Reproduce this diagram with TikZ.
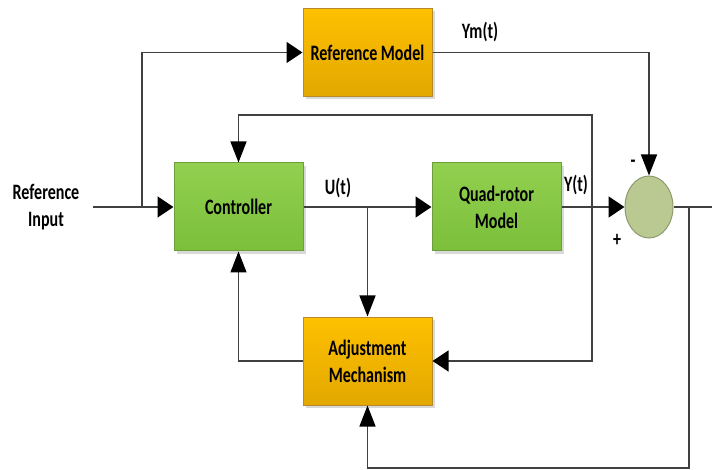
\documentclass[tikz,border=0pt]{standalone}
\usepackage{fontspec}
\setmainfont{Carlito}[FakeStretch=0.73]
\usetikzlibrary{arrows.meta,shapes.geometric,shadows}
\definecolor{gtop}{HTML}{92D050}
\definecolor{gbot}{HTML}{7BBF3A}
\definecolor{gedge}{HTML}{6E9E3C}
\definecolor{otop}{HTML}{FFC000}
\definecolor{obot}{HTML}{E2A800}
\definecolor{oedge}{HTML}{B58A2A}
\definecolor{sumfill}{HTML}{BAC992}
\definecolor{sumedge}{HTML}{8C9A6C}
\definecolor{linec}{HTML}{404040}
\begin{document}
\begin{tikzpicture}[x=1pt,y=-1pt,
  txt/.style={font=\bfseries\fontsize{22}{27}\selectfont, text=black, align=center},
  box/.style={txt, rectangle, draw, line width=1pt, minimum width=129pt, minimum height=88pt, inner sep=0pt,
    drop shadow={shadow xshift=3pt, shadow yshift=-3pt, fill=black!15, opacity=1}},
  gbox/.style={box, draw=gedge, top color=gtop, bottom color=gbot},
  obox/.style={box, draw=oedge, top color=otop, bottom color=obot},
  sumnode/.style={ellipse, draw=sumedge, line width=1pt, fill=sumfill, minimum width=48pt, minimum height=62pt, inner sep=0pt},
  conn/.style={draw=linec, line width=1.4pt},
  harrow/.style={-{Triangle[length=16pt,width=21pt,color=black]}},
  varrow/.style={-{Triangle[length=21pt,width=16pt,color=black]}},
  lbl/.style={txt, inner sep=0pt}
]
\useasboundingbox[fill=white] (0,0) rectangle (712,470);

\node[gbox] (ctrl) at (238.5,207) {Controller};
\node[gbox] (quad) at (496.5,207) {Quad-rotor\\Model};
\node[obox] (refm) at (367.5,52.5) {Reference Model};
\node[obox] (adj) at (367.5,361) {Adjustment\\Mechanism};
\node[sumnode] (sum) at (649,207) {};

\node[lbl] (rin) at (46,207) {Reference\\Input};
\node[lbl] (ym) at (480,32) {Ym(t)};
\node[lbl] (ut) at (338,188) {U(t)};
\node[lbl] (yt) at (576,185) {Y(t)};
\node[lbl] (minus) at (633,164) {-};
\node[lbl] (plus) at (617,240) {+};

\coordinate (in) at (93,207);
\coordinate (j1) at (142,207);
\coordinate (j2) at (367.5,207);
\coordinate (j3) at (592,207);
\coordinate (j4) at (689,207);
\coordinate (out) at (712,207);
\coordinate (c1) at (592,115);
\coordinate (c2) at (689,468);

\draw[conn,harrow] (in) -- (ctrl.west);
\draw[conn,harrow] (j1) |- (refm.west);
\draw[conn,varrow] (refm.east) -| (sum.north);
\draw[conn,harrow] (ctrl.east) -- (quad.west);
\draw[conn,varrow] (j2) -- (adj.north);
\draw[conn,harrow] (quad.east) -- (sum.west);
\draw[conn,varrow] (j3) -- (c1) -| (ctrl.north);
\draw[conn,harrow] (j3) |- (adj.east);
\draw[conn] (sum.east) -- (out);
\draw[conn,varrow] (j4) -- (c2) -| (adj.south);
\draw[conn,varrow] (adj.west) -| (ctrl.south);
\end{tikzpicture}
\end{document}
